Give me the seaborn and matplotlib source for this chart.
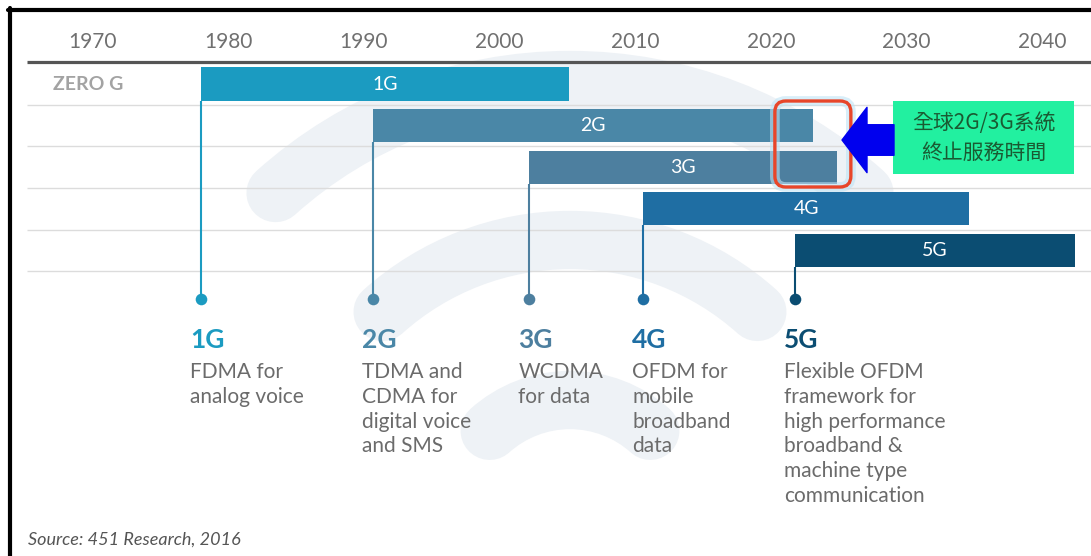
import numpy as np
import pandas as pd
import seaborn as sns
import matplotlib.pyplot as plt
from matplotlib.patches import FancyBboxPatch, Rectangle, Arc
from matplotlib.lines import Line2D

# Data
gens = ["1G", "2G", "3G", "4G", "5G"]
start_year = [1978, 1990.7, 2002.2, 2010.6, 2021.8]
end_year = [2005.1, 2023.1, 2024.9, 2034.6, 2042.4]
bar_colors = ["#1b9bc1", "#4a87a7", "#4d7f9f", "#1f6ea3", "#0b4d72"]
descriptions = [
    "FDMA for\nanalog voice",
    "TDMA and\nCDMA for\ndigital voice\nand SMS",
    "WCDMA\nfor data",
    "OFDM for\nmobile\nbroadband\ndata",
    "Flexible OFDM\nframework for\nhigh performance\nbroadband &\nmachine type\ncommunication",
]
tick_years = [1970, 1980, 1990, 2000, 2010, 2020, 2030, 2040]
shutdown_window = (2020.3, 2025.9)   # 2G/3G switch-off highlight
note_text = "全球2G/3G系統\n終止服務時間"
source_text = "Source: 451 Research, 2016"

df = pd.DataFrame({"gen": gens, "start": start_year, "end": end_year})
df["span"] = df["end"] - df["start"]

sns.set_theme(style="white")
plt.rcParams["font.family"] = ["Lato", "DejaVu Sans"]

# pixel layout helpers (1 year = 13.57 px, 1 row = 41.6 px)
W, H = 1091, 556
YPX, X1980 = 13.57, 228
RPX, ROW0 = 41.6, 84


def px_year(px):
    return 1980 + (px - X1980) / YPX


def px_row(py):
    return (py - ROW0) / RPX


fig = plt.figure(figsize=(W / 100, H / 100), dpi=100)
ax = fig.add_axes([0, 0, 1, 1])

# bars
sns.barplot(data=df, x="span", y="gen", left=df["start"].values, orient="h",
            order=gens, width=0.8, color=bar_colors[0], errorbar=None, ax=ax,
            zorder=3)
for patch, c in zip(ax.containers[0], bar_colors):
    patch.set_facecolor(c)
    patch.set_edgecolor("none")

# faint wifi watermark, drawn in inches so the arcs stay round
wm_center = (5.70, (H - 520) / 100)
for r in [4.4, 2.8, 1.2]:
    ax.add_patch(Arc(wm_center, 2 * r, 2 * r, theta1=48, theta2=132,
                     transform=fig.dpi_scale_trans, color="#eef2f6", lw=42,
                     zorder=0, capstyle="round"))

rows = np.arange(len(gens))

# header rule and row separators
ax.hlines(px_row(62), px_year(27), px_year(W), color="#555555", lw=2.3, zorder=2)
ax.hlines(rows + 0.5, px_year(27), px_year(W), color="#dcdcdc", lw=1, zorder=1)

for y in tick_years:
    ax.text(y, px_row(42), str(y), ha="center", va="center", fontsize=15,
            color="#707070")

ax.text(px_year(53), 0, "ZERO G", ha="left", va="center", fontsize=14,
        fontweight="bold", color="#a3a3a3")

# bar labels, stems, dots, descriptions
dot_row = px_row(299)
for i, row in df.iterrows():
    c = bar_colors[i]
    ax.text((row["start"] + row["end"]) / 2, i, row["gen"], ha="center",
            va="center", fontsize=14, color="white", zorder=4)
    ax.vlines(row["start"], i + 0.4, dot_row, color=c, lw=1.5, zorder=2)
    ax.scatter([row["start"]], [dot_row], s=70, color=c, zorder=3, lw=0)
    ax.text(row["start"] - 0.8, px_row(340), row["gen"], ha="left", va="center",
            fontsize=19, fontweight="bold", color=c)
    ax.text(row["start"] - 0.8, px_row(362), descriptions[i], ha="left",
            va="top", fontsize=15, color="#6b6b6b", linespacing=1.3)

# highlight of shutdown window
x0, x1 = shutdown_window
for lw, col, a in [(7, "#bfe3f5", 0.6), (2.4, "#e8462a", 1)]:
    ax.add_patch(FancyBboxPatch((x0, px_row(101)), x1 - x0, px_row(187) - px_row(101),
                                boxstyle="round,pad=0,rounding_size=0.8",
                                mutation_aspect=YPX / RPX, fill=False,
                                edgecolor=col, lw=lw, alpha=a, zorder=5))

ax.annotate("", xy=(px_year(842), px_row(140)), xytext=(px_year(894), px_row(140)),
            arrowprops=dict(arrowstyle="simple,head_length=1.8,head_width=4.7,tail_width=2.2",
                            color="#0000ee", shrinkA=0, shrinkB=0, mutation_scale=10),
            zorder=6)

ax.add_patch(Rectangle((px_year(893), px_row(101)), px_year(1074) - px_year(893),
                       px_row(174) - px_row(101), facecolor="#22f0a0",
                       edgecolor="none", zorder=5))
ax.text((px_year(893) + px_year(1074)) / 2, px_row(138), note_text, ha="center",
        va="center", fontsize=15, color="#1a5a32", linespacing=1.45,
        family=["Noto Sans CJK TC", "DejaVu Sans"], zorder=6)

ax.text(px_year(28), px_row(540), source_text, ha="left", va="center",
        fontsize=13, style="italic", color="#555555")

ax.set_xlim(px_year(0), px_year(W))
ax.set_ylim(px_row(H), px_row(0))
ax.set_axis_off()

# black frame lines at top and left
fig.add_artist(Line2D([8 / W, 1], [1 - 9.5 / H] * 2, transform=fig.transFigure,
                      color="black", lw=3))
fig.add_artist(Line2D([9.5 / W] * 2, [0, 1 - 8 / H], transform=fig.transFigure,
                      color="black", lw=3))

fig.savefig("out.png", dpi=100, facecolor="white")
